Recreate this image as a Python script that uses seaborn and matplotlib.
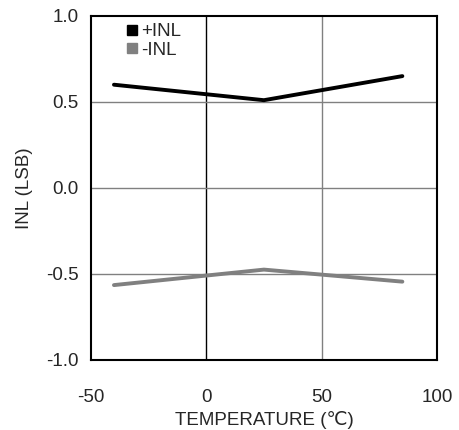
import matplotlib
matplotlib.use("Agg")
import matplotlib.pyplot as plt
from matplotlib.lines import Line2D
import seaborn as sns
import pandas as pd

temps = [-40, 25, 85]
inl_pos = [0.60, 0.51, 0.65]
inl_neg = [-0.565, -0.475, -0.545]
series_names = ["+INL", "-INL"]
colors = ["#000000", "#808080"]
x_ticks = [-50, 0, 50, 100]
y_ticks = [-1.0, -0.5, 0.0, 0.5, 1.0]

sns.set_theme(style="white")
plt.rcParams["font.family"] = ["Liberation Sans", "DejaVu Sans"]

df = pd.DataFrame({
    "temp": temps * 2,
    "inl": inl_pos + inl_neg,
    "series": [series_names[0]] * len(temps) + [series_names[1]] * len(temps),
})

FS = 13.5

fig = plt.figure(figsize=(4.59, 4.30), dpi=100)
ax = fig.add_axes([0.198, 0.163, 0.754, 0.800])

# grid lines
for xv in [0, 50]:
    ax.axvline(xv, color="#000000" if xv == 0 else "#808080", lw=1.0, zorder=1)
for yv in [-0.5, 0.0, 0.5]:
    ax.axhline(yv, color="#808080", lw=1.0, zorder=1)

sns.lineplot(data=df, x="temp", y="inl", hue="series", palette=colors,
             linewidth=2.8, legend=False, ax=ax, zorder=3)

ax.set_xlim(-50, 100)
ax.set_ylim(-1.0, 1.0)
ax.set_xticks(x_ticks)
ax.set_xticklabels([str(v) for v in x_ticks], fontsize=FS)
ax.set_yticks(y_ticks)
ax.set_yticklabels([f"{v:.1f}" for v in y_ticks], fontsize=FS)
ax.tick_params(axis="x", length=0, pad=21)
ax.tick_params(axis="y", length=0, pad=9)
ax.set_xlabel("TEMPERATURE (℃)", fontsize=FS, labelpad=3.5)
ax.set_ylabel("INL (LSB)", fontsize=FS, labelpad=9)

for sp in ax.spines.values():
    sp.set_color("black")
    sp.set_linewidth(1.5)

handles = [Line2D([], [], marker="s", linestyle="none", color=c, markersize=7)
           for c in colors]
ax.legend(handles, series_names, loc="upper left", bbox_to_anchor=(0.095, 0.985),
          frameon=False, fontsize=FS, handletextpad=0.15, labelspacing=0.08,
          borderaxespad=0.0, borderpad=0.1, handlelength=0.7)

fig.savefig("out.png", dpi=100)
